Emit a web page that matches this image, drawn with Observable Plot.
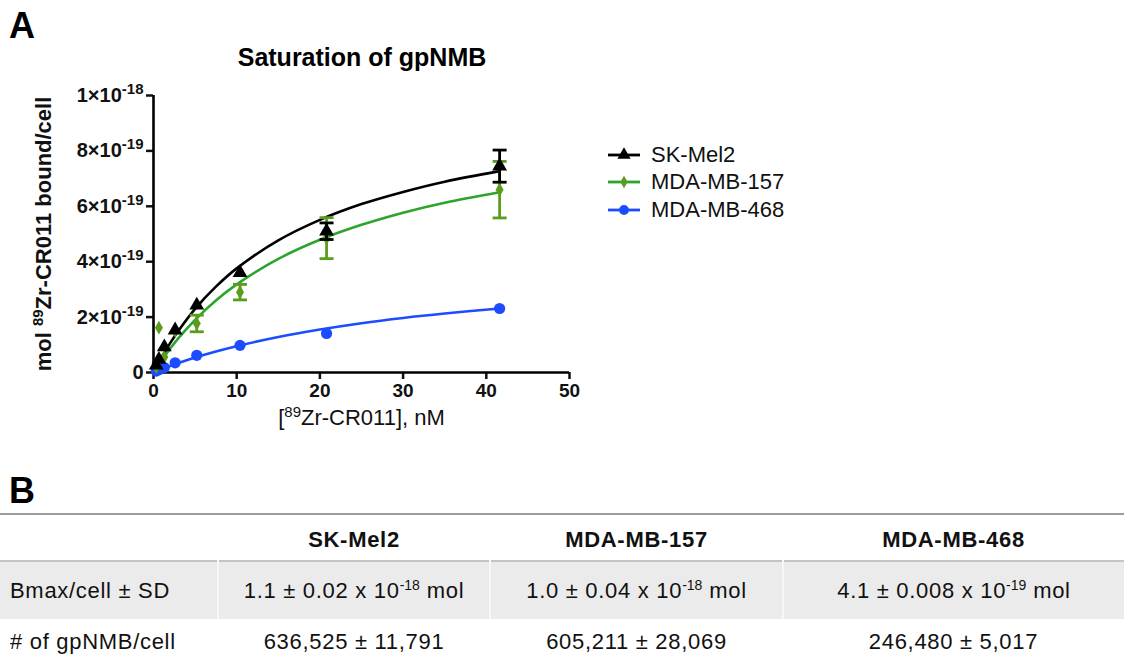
<!DOCTYPE html>
<html>
<head>
<meta charset="utf-8">
<script src="https://cdn.jsdelivr.net/npm/d3@7"></script>
<script src="https://cdn.jsdelivr.net/npm/@observablehq/plot@0.6"></script>
<style>
  html, body { margin: 0; padding: 0; background: #fff; }
  body { font-family: "Liberation Sans", Arial, Helvetica, sans-serif; color: #111; }
  #page { position: relative; width: 1124px; height: 661px; overflow: hidden; background: #fff; }
  .panel { position: absolute; font-weight: bold; font-size: 36px; line-height: 1; color: #000; }
  #title { position: absolute; left: 0; width: 724px; top: 45px; text-align: center; font-weight: bold; font-size: 25px; line-height: 1; color: #000; }
  #chart { position: absolute; left: 0; top: 0; }
  #chart svg g[aria-label="x-axis tick label"] text,
  #chart svg g[aria-label="y-axis tick label"] text { font-weight: bold; }
  #chart svg g[aria-label="y-axis label"] text { font-weight: bold; font-size: 22px; }
  #chart svg g[aria-label="x-axis label"] text { font-weight: normal; font-size: 22px; }
  #legend { position: absolute; left: 606px; top: 141px; }
  .lg { display: flex; align-items: center; height: 27.5px; font-size: 22px; color: #111; }
  .lg svg { margin-right: 9px; }
  #tbl { position: absolute; left: 0; top: 513px; width: 1124px; border-collapse: collapse; font-size: 22px; letter-spacing: 0.7px; color: #111; }
  #tbl td, #tbl th { padding: 0; }
  #tbl tr.head { height: 47px; border-top: 2px solid #9c9c9c; border-bottom: 2px solid #c4c4c4; }
  #tbl tr.head th { font-weight: bold; text-align: center; vertical-align: middle; padding-top: 4px; }
  #tbl tr.r1 { height: 58px; background: #ebebeb; }
  #tbl tr.r1 td { border-right: 2px solid #f7f7f7; }
  #tbl tr.r1 td:last-child { border-right: none; }
  #tbl tr.r2 { height: 45px; background: #fff; }
  #tbl td { text-align: center; vertical-align: middle; }
  #tbl td.rowh { text-align: left; padding-left: 10px; }
  #tbl sup { font-size: 14px; letter-spacing: 0; vertical-align: 8px; line-height: 0; }
</style>
</head>
<body>
<div id="page">
  <div class="panel" style="left:9px; top:8px;">A</div>
  <div id="title">Saturation of gpNMB</div>
  <div id="chart"></div>
  <div id="legend"></div>
  <div class="panel" style="left:9px; top:473px;">B</div>
  <table id="tbl"></table>
</div>
<script>
// ---------- data ----------
const concentration = [0.325, 0.65, 1.3, 2.6, 5.2, 10.4, 20.8, 41.6]; // nM

// mol 89Zr-CR011 bound per cell
const skMel2     = [0.26e-19, 0.47e-19, 0.92e-19, 1.53e-19, 2.43e-19, 3.60e-19, 5.10e-19, 7.45e-19];
const skMel2SD   = [0, 0, 0, 0, 0, 0, 0.30e-19, 0.58e-19];
const mdaMb157   = [0.20e-19, 1.62e-19, 0.56e-19, 1.50e-19, 1.77e-19, 2.90e-19, 4.85e-19, 6.60e-19];
const mdaMb157SD = [0, 0, 0, 0, 0.30e-19, 0.28e-19, 0.74e-19, 1.02e-19];
const mdaMb468   = [0.05e-19, 0.10e-19, 0.18e-19, 0.35e-19, 0.62e-19, 0.98e-19, 1.41e-19, 2.31e-19];
const mdaMb468SD = [0, 0, 0, 0, 0, 0, 0, 0];

// fitted saturation curves
const fitXSkMel2 = [0.325, 1, 2, 3, 5, 7.5, 10, 15, 20, 25, 30, 35, 41.6];
const fitYSkMel2 = [0.19e-19, 0.56e-19, 1.06e-19, 1.51e-19, 2.30e-19, 3.10e-19, 3.76e-19, 4.77e-19, 5.51e-19, 6.08e-19, 6.52e-19, 6.89e-19, 7.27e-19];
const fitX157    = [1.3, 2, 3, 5, 7.5, 10, 15, 20, 25, 30, 35, 41.6];
const fitY157    = [0.58e-19, 0.86e-19, 1.24e-19, 1.90e-19, 2.60e-19, 3.18e-19, 4.10e-19, 4.79e-19, 5.33e-19, 5.77e-19, 6.13e-19, 6.51e-19];
const fitX468    = [0.325, 1, 2, 3, 5, 7.5, 10, 15, 20, 25, 30, 35, 41.6];
const fitY468    = [0.04e-19, 0.12e-19, 0.23e-19, 0.34e-19, 0.54e-19, 0.76e-19, 0.95e-19, 1.28e-19, 1.55e-19, 1.78e-19, 1.97e-19, 2.13e-19, 2.31e-19];

const seriesNames = ["SK-Mel2", "MDA-MB-157", "MDA-MB-468"];
const xTicks = [0, 10, 20, 30, 40, 50];
const yTicks = [0, 2e-19, 4e-19, 6e-19, 8e-19, 1e-18];
const yTickLabels = ["0", "2×10^{-19}", "4×10^{-19}", "6×10^{-19}", "8×10^{-19}", "1×10^{-18}"];
const xLabel = "[^{89}Zr-CR011], nM";
const yLabel = "mol ^{89}Zr-CR011 bound/cell";

// table B
const tableHeader = ["", "SK-Mel2", "MDA-MB-157", "MDA-MB-468"];
const bmaxMantissa = ["1.1 ± 0.02 x 10", "1.0 ± 0.04 x 10", "4.1 ± 0.008 x 10"];
const bmaxExponent = ["-18", "-18", "-19"];
const receptorsPerCell = ["636,525 ± 11,791", "605,211 ± 28,069", "246,480 ± 5,017"];
const rowLabels = ["Bmax/cell ± SD", "# of gpNMB/cell"];
const columnWidths = [218, 272, 293, 341];

// ---------- styling ----------
const colors = { "SK-Mel2": "#000000", "MDA-MB-157": "#5a9c1c", "MDA-MB-468": "#1c4cff" };
const lineColors = { "SK-Mel2": "#000000", "MDA-MB-157": "#2ca52c", "MDA-MB-468": "#1c4cff" };
const symbols = { "SK-Mel2": "triangle", "MDA-MB-157": "diamond", "MDA-MB-468": "circle" };
const radii = { "SK-Mel2": 5.5, "MDA-MB-157": 4.2, "MDA-MB-468": 5.6 };

// ---------- build tables ----------
const pointSets = { "SK-Mel2": [skMel2, skMel2SD], "MDA-MB-157": [mdaMb157, mdaMb157SD], "MDA-MB-468": [mdaMb468, mdaMb468SD] };
const fitSets = { "SK-Mel2": [fitXSkMel2, fitYSkMel2], "MDA-MB-157": [fitX157, fitY157], "MDA-MB-468": [fitX468, fitY468] };

const drawOrder = ["MDA-MB-468", "MDA-MB-157", "SK-Mel2"];
const points = [];
const fits = [];
for (const s of drawOrder) {
  const [vals, sds] = pointSets[s];
  concentration.forEach((c, i) => points.push({ series: s, x: c, y: vals[i], sd: sds[i], lo: vals[i] - sds[i], hi: vals[i] + sds[i] }));
  const [fx, fy] = fitSets[s];
  fx.forEach((x, i) => fits.push({ series: s, x, y: fy[i] }));
}

const capSymbol = {
  draw(ctx, size) { const w = Math.sqrt(size / Math.PI); ctx.moveTo(-w, 0); ctx.lineTo(w, 0); }
};

const marks = [];
for (const s of drawOrder) {
  marks.push(Plot.line(fits.filter(d => d.series === s), { x: "x", y: "y", stroke: lineColors[s], strokeWidth: 2.6, curve: "catmull-rom" }));
}
for (const s of drawOrder) {
  const pts = points.filter(d => d.series === s);
  const err = pts.filter(d => d.sd > 0);
  marks.push(
    Plot.ruleX(err, { x: "x", y1: "lo", y2: "hi", stroke: colors[s], strokeWidth: 2.8 }),
    Plot.dot(err, { x: "x", y: "lo", symbol: capSymbol, r: 7, stroke: colors[s], fill: "none", strokeWidth: 2.8 }),
    Plot.dot(err, { x: "x", y: "hi", symbol: capSymbol, r: 7, stroke: colors[s], fill: "none", strokeWidth: 2.8 }),
    Plot.dot(pts, { x: "x", y: "y", symbol: symbols[s], r: radii[s], fill: colors[s], stroke: "none" })
  );
}

const chart = Plot.plot({
  width: 820,
  height: 450,
  marginLeft: 153,
  marginRight: 251,
  marginTop: 95,
  marginBottom: 78,
  style: { fontFamily: '"Liberation Sans", Arial, Helvetica, sans-serif', background: "transparent", overflow: "visible", color: "#111" },
  x: { domain: [0, 50] },
  y: { domain: [0, 1e-18] },
  marks: [
    Plot.axisX({ ticks: xTicks, tickFormat: d => String(d), tickSize: 7, tickPadding: 4, strokeWidth: 2.5, fontSize: 19, fontWeight: "bold",
                 label: xLabel, labelAnchor: "center", labelArrow: "none", labelOffset: 52 }),
    Plot.axisY({ ticks: yTicks, tickFormat: d => yTickLabels[yTicks.indexOf(d)], tickSize: 7, tickPadding: 3, strokeWidth: 2.5, fontSize: 20, fontWeight: "bold",
                 label: yLabel, labelAnchor: "center", labelArrow: "none", labelOffset: 118 }),
    Plot.ruleY([0], { x1: 0, x2: 50, stroke: "#000", strokeWidth: 2.6 }),
    Plot.ruleX([0], { y1: 0, y2: 1e-18, stroke: "#000", strokeWidth: 2.6 }),
    ...marks
  ]
});

// render "a^{b}c" text as real superscripts with tspans
const SVGNS = "http://www.w3.org/2000/svg";
function supify(el, supSize, rise) {
  const m = el.textContent.match(/^(.*?)\^\{(.*?)\}(.*)$/);
  if (!m) return;
  el.textContent = "";
  const a = document.createElementNS(SVGNS, "tspan"); a.textContent = m[1];
  const b = document.createElementNS(SVGNS, "tspan"); b.textContent = m[2];
  b.setAttribute("dy", -rise); b.setAttribute("font-size", supSize); b.style.fontSize = supSize + "px";
  el.appendChild(a); el.appendChild(b);
  if (m[3]) {
    const c = document.createElementNS(SVGNS, "tspan"); c.textContent = m[3];
    c.setAttribute("dy", rise);
    el.appendChild(c);
  }
}
chart.querySelectorAll('g[aria-label="y-axis tick label"] text').forEach(t => supify(t, 15, 8));
chart.querySelectorAll('g[aria-label="x-axis label"] text, g[aria-label="y-axis label"] text').forEach(t => supify(t, 15, 8));
document.getElementById("chart").appendChild(chart);

// ---------- legend ----------
const legend = document.getElementById("legend");
for (const s of seriesNames) {
  const row = document.createElement("div");
  row.className = "lg";
  const sym = d3.symbol(d3[{ triangle: "symbolTriangle", diamond: "symbolDiamond", circle: "symbolCircle" }[symbols[s]]], Math.PI * radii[s] * radii[s] * 0.8)();
  row.innerHTML = `<svg width="36" height="20" viewBox="0 0 36 20"><line x1="2" x2="34" y1="10" y2="10" stroke="${lineColors[s]}" stroke-width="2.8"/><path d="${sym}" transform="translate(18,10)" fill="${colors[s]}"/></svg><span>${s}</span>`;
  legend.appendChild(row);
}

// ---------- table ----------
const tbl = document.getElementById("tbl");
const colgroup = document.createElement("colgroup");
colgroup.innerHTML = columnWidths.map(w => `<col style="width:${w}px">`).join("");
tbl.appendChild(colgroup);
const head = document.createElement("tr");
head.className = "head";
head.innerHTML = tableHeader.map(h => `<th>${h}</th>`).join("");
tbl.appendChild(head);
const r1 = document.createElement("tr");
r1.className = "r1";
r1.innerHTML = `<td class="rowh">${rowLabels[0]}</td>` + bmaxMantissa.map((m, i) => `<td>${m}<sup>${bmaxExponent[i]}</sup> mol</td>`).join("");
tbl.appendChild(r1);
const r2 = document.createElement("tr");
r2.className = "r2";
r2.innerHTML = `<td class="rowh">${rowLabels[1]}</td>` + receptorsPerCell.map(v => `<td>${v}</td>`).join("");
tbl.appendChild(r2);
</script>
</body>
</html>
